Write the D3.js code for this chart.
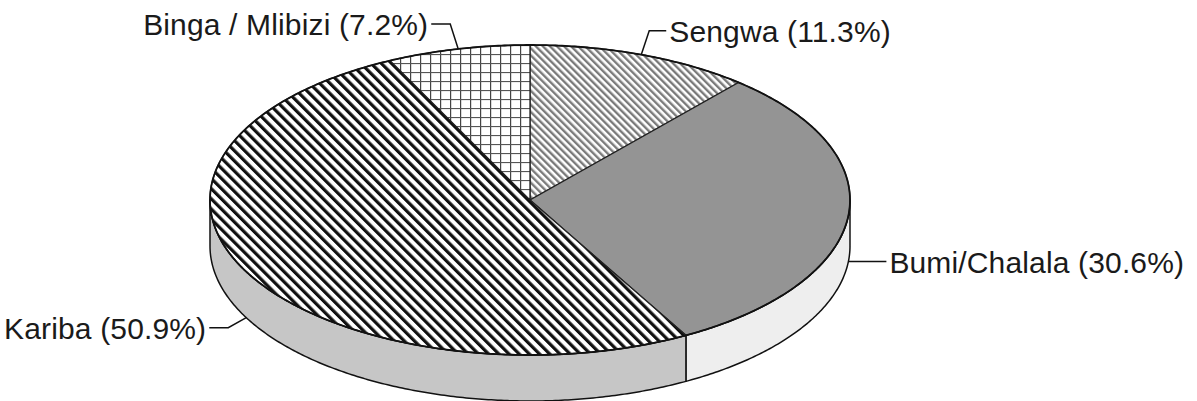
<!DOCTYPE html>
<html>
<head>
<meta charset="utf-8">
<script src="https://cdn.jsdelivr.net/npm/d3@7"></script>
<style>
  html, body { margin: 0; padding: 0; background: #fff; }
  svg { display: block; }
  .label { font-family: "Liberation Sans", Arial, Helvetica, sans-serif; font-size: 30px; letter-spacing: 0.15px; fill: #1a1a1a; }
</style>
</head>
<body>
<svg id="chart" width="1197" height="401"></svg>
<script>
// Share of catch by fishing area (percent), clockwise from 12 o'clock
const regions = ["Sengwa", "Bumi/Chalala", "Kariba", "Binga / Mlibizi"];
const shares = [11.3, 30.6, 50.9, 7.2];

const svg = d3.select("#chart");

// Ellipse geometry of the tilted disc
const cx = 530, cy = 200, rx = 320, ry = 155, depth = 46;

// ---- fill patterns ----
const defs = svg.append("defs");

function stripePattern(id, period, lineW, color, angle) {
  const p = defs.append("pattern")
    .attr("id", id)
    .attr("patternUnits", "userSpaceOnUse")
    .attr("width", period).attr("height", period)
    .attr("patternTransform", `rotate(${angle})`);
  p.append("rect").attr("width", period).attr("height", period).attr("fill", "#fff");
  p.append("rect").attr("x", 0).attr("y", 0).attr("width", lineW).attr("height", period).attr("fill", color);
}
stripePattern("hatch-fine", 5, 2.4, "#7a7a7a", -45);
stripePattern("hatch-bold", 7.2, 3.2, "#111", -45);

const grid = defs.append("pattern")
  .attr("id", "grid")
  .attr("patternUnits", "userSpaceOnUse")
  .attr("x", cx).attr("y", 0)
  .attr("width", 10).attr("height", 9);
grid.append("rect").attr("width", 10).attr("height", 9).attr("fill", "#fff");
grid.append("rect").attr("x", 0).attr("y", 0).attr("width", 1.2).attr("height", 9).attr("fill", "#444");
grid.append("rect").attr("x", 0).attr("y", 0).attr("width", 10).attr("height", 1.1).attr("fill", "#555");

const topFill = d3.scaleOrdinal()
  .domain(regions)
  .range(["url(#hatch-fine)", "#949494", "url(#hatch-bold)", "url(#grid)"]);
const sideFill = d3.scaleOrdinal()
  .domain(regions)
  .range(["#d0d0d0", "#eeeeee", "#c6c6c6", "#d8d8d8"]);

// ---- layout ----
const pie = d3.pie().sort(null).value(d => d.share).startAngle(0).endAngle(2 * Math.PI);
const arcs = pie(regions.map((r, i) => ({ region: r, share: shares[i] })));

// point on the rim for an angle measured clockwise from 12 o'clock
const rim = (a, dy = 0) => [cx + rx * Math.sin(a), cy - ry * Math.cos(a) + dy];

function rimPoints(a0, a1, dy = 0) {
  const n = Math.max(2, Math.ceil(Math.abs(a1 - a0) / 0.01));
  return d3.range(n + 1).map(k => rim(a0 + (a1 - a0) * k / n, dy));
}

const line = d3.line();

function topPath(d) {
  return line([[cx, cy], ...rimPoints(d.startAngle, d.endAngle)]) + "Z";
}

function sidePath(d) {
  const s = Math.max(d.startAngle, Math.PI / 2);
  const e = Math.min(d.endAngle, 3 * Math.PI / 2);
  if (s >= e) return null;
  return line([...rimPoints(s, e), ...rimPoints(e, s, depth)]) + "Z";
}

// ---- sides (front half only) ----
svg.append("g")
  .selectAll("path")
  .data(arcs.filter(d => sidePath(d)))
  .join("path")
  .attr("d", sidePath)
  .attr("fill", d => sideFill(d.data.region))
  .attr("stroke", "#111")
  .attr("stroke-width", 1.5)
  .attr("stroke-linejoin", "round");

// ---- top faces ----
svg.append("g")
  .selectAll("path")
  .data(arcs)
  .join("path")
  .attr("d", topPath)
  .attr("fill", d => topFill(d.data.region))
  .attr("stroke", "#222")
  .attr("stroke-width", 1.3)
  .attr("stroke-linejoin", "round");

// outer rim of the top face
svg.append("path")
  .attr("d", line(rimPoints(0, 2 * Math.PI)) + "Z")
  .attr("fill", "none")
  .attr("stroke", "#111")
  .attr("stroke-width", 1.8);

// ---- leader lines and labels ----
// elbow offset from the rim point, horizontal run, and text side
const leaderStyle = {
  "Sengwa":          { elbow: [8, -24],  run: 17,  side: 1 },
  "Bumi/Chalala":    { elbow: [0, 0],    run: 38,  side: 1 },
  "Kariba":          { elbow: [-18, 10], run: 19,  side: -1 },
  "Binga / Mlibizi": { elbow: [-8, -25], run: 19,  side: -1 }
};

const labels = svg.append("g");
arcs.forEach(d => {
  const mid = (d.startAngle + d.endAngle) / 2;
  const front = mid > Math.PI / 2 && mid < 3 * Math.PI / 2;
  const p0 = rim(mid, front ? depth : 0);
  const st = leaderStyle[d.data.region];
  const p1 = [p0[0] + st.elbow[0], p0[1] + st.elbow[1]];
  const p2 = [p1[0] + st.side * st.run, p1[1]];
  labels.append("path")
    .attr("d", line([p0, p1, p2]))
    .attr("fill", "none")
    .attr("stroke", "#111")
    .attr("stroke-width", 1.5);
  labels.append("text")
    .attr("class", "label")
    .attr("x", p2[0] + st.side * 3)
    .attr("y", p2[1] + 11)
    .attr("text-anchor", st.side > 0 ? "start" : "end")
    .text(`${d.data.region} (${d3.format(".1f")(d.data.share)}%)`);
});
</script>
</body>
</html>
